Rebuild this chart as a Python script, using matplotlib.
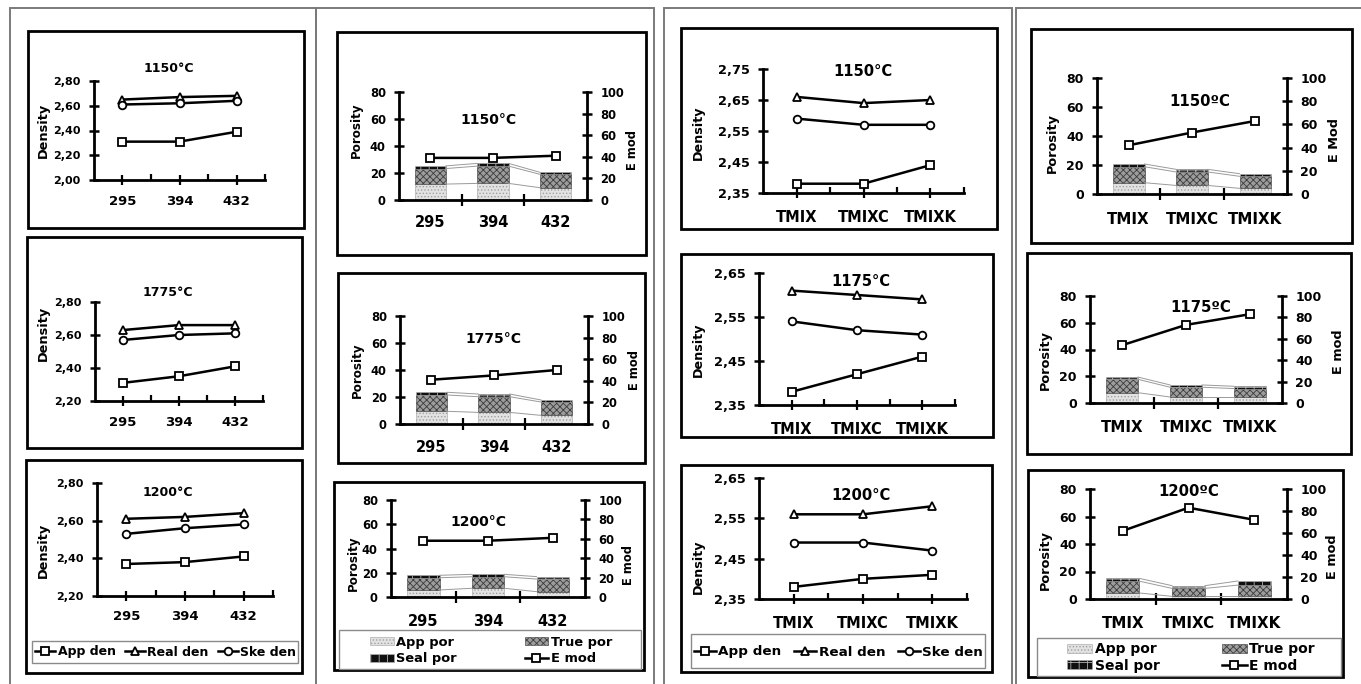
import numpy as np
import matplotlib
matplotlib.use("Agg")
import matplotlib.pyplot as plt
from matplotlib.patches import Rectangle
from matplotlib.ticker import FuncFormatter
from matplotlib.transforms import blended_transform_factory

plt.rcParams["font.family"] = ["DejaVu Sans"]
plt.rcParams["font.weight"] = "bold"
plt.rcParams["hatch.linewidth"] = 0.6

W, H = 1361, 684

# categories
num_cats = ["295", "394", "432"]
mix_cats = ["TMIX", "TMIXC", "TMIXK"]

# densities, samples 295 / 394 / 432
app_den_num_1150 = [2.31, 2.31, 2.39]
real_den_num_1150 = [2.65, 2.67, 2.68]
ske_den_num_1150 = [2.61, 2.62, 2.64]
app_den_num_1775 = [2.31, 2.35, 2.41]
real_den_num_1775 = [2.63, 2.66, 2.66]
ske_den_num_1775 = [2.57, 2.60, 2.61]
app_den_num_1200 = [2.37, 2.38, 2.41]
real_den_num_1200 = [2.61, 2.62, 2.64]
ske_den_num_1200 = [2.53, 2.56, 2.58]

# porosity + E modulus, samples 295 / 394 / 432
app_por_num_1150 = [11.8, 12.3, 9.1]
true_por_num_1150 = [11.5, 12.8, 9.9]
seal_por_num_1150 = [2.0, 2.0, 1.5]
emod_num_1150 = [39, 39, 41]
app_por_num_1775 = [9.4, 8.6, 6.4]
true_por_num_1775 = [12.1, 11.6, 9.9]
seal_por_num_1775 = [2.0, 2.0, 1.5]
emod_num_1775 = [41, 45, 50]
app_por_num_1200 = [5.8, 7.2, 4.4]
true_por_num_1200 = [10.1, 9.5, 10.4]
seal_por_num_1200 = [2.0, 2.0, 2.0]
emod_num_1200 = [58, 58, 61]

# densities, TMIX mixes
app_den_mix_1150 = [2.38, 2.38, 2.44]
real_den_mix_1150 = [2.66, 2.64, 2.65]
ske_den_mix_1150 = [2.59, 2.57, 2.57]
app_den_mix_1175 = [2.38, 2.42, 2.46]
real_den_mix_1175 = [2.61, 2.60, 2.59]
ske_den_mix_1175 = [2.54, 2.52, 2.51]
app_den_mix_1200 = [2.38, 2.40, 2.41]
real_den_mix_1200 = [2.56, 2.56, 2.58]
ske_den_mix_1200 = [2.49, 2.49, 2.47]

# porosity + E modulus, TMIX mixes
app_por_mix_1150 = [7.8, 5.9, 3.9]
true_por_mix_1150 = [11.0, 9.3, 8.3]
seal_por_mix_1150 = [1.9, 1.8, 1.8]
emod_mix_1150 = [42, 53, 63]
app_por_mix_1175 = [7.7, 4.5, 4.5]
true_por_mix_1175 = [10.0, 7.3, 6.3]
seal_por_mix_1175 = [1.7, 1.7, 1.7]
emod_mix_1175 = [54, 73, 83]
app_por_mix_1200 = [4.4, 1.9, 1.9]
true_por_mix_1200 = [8.6, 5.8, 8.2]
seal_por_mix_1200 = [2.0, 2.0, 3.0]
emod_mix_1200 = [62, 83, 72]

APP_STYLE = dict(facecolor="#e2e2e2", edgecolor="#a0a0a0", hatch=".....", lw=0.4)
TRUE_STYLE = dict(facecolor="#9c9c9c", edgecolor="#3c3c3c", hatch="xxxxx", lw=0.4)
SEAL_STYLE = dict(facecolor="#101010", edgecolor="#b0b0b0", hatch="++", lw=0.4)
MARK = dict(color="black", lw=1.8, markersize=5.5, markerfacecolor="white",
            markeredgecolor="black", markeredgewidth=1.3, clip_on=False)

fig = plt.figure(figsize=(W / 100, H / 100), dpi=100)


def rect_fig(x0, x1, y0, y1):
    return [x0 / W, 1 - y1 / H, (x1 - x0) / W, (y1 - y0) / H]


def frame(x0, x1, y0, y1, color="black", lw=2.0):
    fig.add_artist(Rectangle((x0 / W, 1 - y1 / H), (x1 - x0) / W, (y1 - y0) / H,
                             transform=fig.transFigure, fill=False,
                             edgecolor=color, lw=lw))


def ftext(x, y, s, size, rot=0):
    fig.text(x / W, 1 - y / H, s, ha="center", va="center", fontsize=size,
             rotation=rot, fontweight="bold")


def comma(v, pos):
    return f"{v:.2f}".replace(".", ",")


def cat_labels(ax, xs, cats, y, size):
    trans = blended_transform_factory(ax.transData, fig.transFigure)
    for x, c in zip(xs, cats):
        ax.text(x, 1 - y / H, c, transform=trans, ha="center", va="center",
                fontsize=size, fontweight="bold")


def density_chart(pos, ylim, step, cats, app, real, ske, label_y, tsize, csize):
    ax = fig.add_axes(rect_fig(*pos))
    ax.patch.set_alpha(0)
    xs = np.arange(len(cats)) + 0.5
    h1, = ax.plot(xs, app, marker="s", label="App den", **MARK)
    h2, = ax.plot(xs, real, marker="^", label="Real den", **MARK)
    h3, = ax.plot(xs, ske, marker="o", label="Ske den", **MARK)
    ax.set_xlim(0, 3)
    ax.set_ylim(*ylim)
    ax.set_yticks(np.round(np.arange(ylim[0], ylim[1] + step / 2, step), 2))
    ax.yaxis.set_major_formatter(FuncFormatter(comma))
    ax.set_xticks(xs)
    ax.set_xticks([1, 2, 3], minor=True)
    ax.tick_params(axis="x", which="major", direction="inout", length=7,
                   width=1.6, labelbottom=False)
    ax.tick_params(axis="x", which="minor", direction="in", length=4, width=1.6)
    ax.tick_params(axis="y", direction="inout", length=7, width=1.8,
                   labelsize=tsize, pad=6)
    for s in ["top", "right"]:
        ax.spines[s].set_visible(False)
    for s in ["left", "bottom"]:
        ax.spines[s].set_linewidth(2)
    cat_labels(ax, xs, cats, label_y, csize)
    return [h1, h2, h3]


def porosity_chart(pos, cats, app, true, seal, emod, label_y, tsize, csize):
    ax = fig.add_axes(rect_fig(*pos))
    ax.patch.set_alpha(0)
    xs = np.arange(len(cats)) + 0.5
    app, true, seal = np.array(app), np.array(true), np.array(seal)
    w = 0.5
    b1 = ax.bar(xs, app, w, **APP_STYLE)
    b2 = ax.bar(xs, true, w, bottom=app, **TRUE_STYLE)
    b3 = ax.bar(xs, seal, w, bottom=app + true, **SEAL_STYLE)
    # series lines between the stacked bars
    for lev in (app, app + true, app + true + seal):
        for i in range(len(xs) - 1):
            ax.plot([xs[i] + w / 2, xs[i + 1] - w / 2], [lev[i], lev[i + 1]],
                    color="#9a9a9a", lw=0.7)
    ax.set_xlim(0, 3)
    ax.set_ylim(0, 80)
    ax.set_yticks(range(0, 81, 20))
    ax.set_xticks([1, 2])
    ax.tick_params(axis="x", direction="inout", length=8, width=1.6,
                   labelbottom=False)
    ax.tick_params(axis="y", direction="inout", length=7, width=1.8,
                   labelsize=tsize, pad=6)
    ax2 = ax.twinx()
    h4, = ax2.plot(xs, emod, marker="s", label="E mod", **dict(MARK, markersize=6))
    ax2.set_ylim(0, 100)
    ax2.set_yticks(range(0, 101, 20))
    ax2.tick_params(axis="y", direction="inout", length=7, width=1.8,
                    labelsize=tsize, pad=6)
    for a in (ax, ax2):
        a.spines["top"].set_visible(False)
    ax.spines["right"].set_visible(False)
    ax2.spines["left"].set_visible(False)
    ax2.spines["bottom"].set_visible(False)
    ax.spines["left"].set_linewidth(2)
    ax.spines["bottom"].set_linewidth(2)
    ax2.spines["right"].set_linewidth(2)
    cat_labels(ax, xs, cats, label_y, csize)
    # legend fills column-wise: App / Seal in the first column, True / E mod in the second
    return [b1, b3, b2, h4]


POR_LABELS = ["App por", "Seal por", "True por", "E mod"]

# outer column frames
for x0, x1 in [(10, 316), (316, 654), (664, 1012), (1016, 1370)]:
    frame(x0, x1, 8, 700, color="#7a7a7a", lw=1.4)

# column 1: density, 295/394/432
frame(28, 304, 31, 228)
frame(27, 302, 237, 448)
frame(26, 302, 460, 673)
density_chart((94, 265, 81, 180), (2.0, 2.8), 0.2, num_cats, app_den_num_1150,
              real_den_num_1150, ske_den_num_1150, 202, 8, 9.5)
density_chart((95, 263, 302, 401), (2.2, 2.8), 0.2, num_cats, app_den_num_1775,
              real_den_num_1775, ske_den_num_1775, 422, 8, 9.5)
hd = density_chart((97, 273, 483, 596), (2.2, 2.8), 0.2, num_cats, app_den_num_1200,
                   real_den_num_1200, ske_den_num_1200, 617, 8, 9.5)
ftext(169, 68, "1150°C", 9)
ftext(168, 293, "1775°C", 9)
ftext(168, 492, "1200°C", 9)
for y in (130, 333, 550):
    ftext(43.5, y, "Density", 9.3, 90)
frame(32, 298, 641, 663, color="#8a8a8a", lw=1.0)
fig.legend(hd, ["App den", "Real den", "Ske den"], loc="center",
           bbox_to_anchor=(35 / W, 1 - 652 / H, 261 / W, 0), mode="expand",
           ncol=3, frameon=False, handlelength=1.6, handletextpad=0.2,
           borderpad=0, borderaxespad=0, columnspacing=0.5,
           prop={"size": 9, "weight": "bold"})

# column 2: porosity + E mod, 295/394/432
frame(337, 646, 32, 255)
frame(338, 645, 273, 463)
frame(334, 644, 482, 670)
porosity_chart((399, 587, 92, 200), num_cats, app_por_num_1150, true_por_num_1150,
               seal_por_num_1150, emod_num_1150, 223, 8.3, 10.5)
porosity_chart((400, 588, 316, 424), num_cats, app_por_num_1775, true_por_num_1775,
               seal_por_num_1775, emod_num_1775, 448, 8.3, 10.5)
hp = porosity_chart((391, 585, 500, 597), num_cats, app_por_num_1200,
                    true_por_num_1200, seal_por_num_1200, emod_num_1200, 621, 8.3, 10.5)
ftext(489, 120, "1150°C", 10)
ftext(493, 339, "1775°C", 10)
ftext(478, 522, "1200°C", 10)
for x, y in [(356, 130), (357, 370), (353, 563)]:
    ftext(x, y, "Porosity", 8.6, 90)
for x, y in [(632, 150), (635, 370), (628, 565)]:
    ftext(x, y, "E mod", 8.3, 90)
frame(339, 641, 630, 669, color="#8a8a8a", lw=1.0)
fig.legend(hp, POR_LABELS, loc="center",
           bbox_to_anchor=(370 / W, 1 - 650.5 / H, 242 / W, 0), mode="expand",
           ncol=2, frameon=False, handlelength=1.8, handleheight=0.6,
           handletextpad=0.2, borderpad=0, borderaxespad=0, labelspacing=0.3,
           prop={"size": 9.4, "weight": "bold"})

# column 3: density, TMIX mixes
frame(681, 997, 28, 229)
frame(681, 993, 254, 437)
frame(681, 992, 465, 672)
density_chart((763, 964, 69, 193), (2.35, 2.75), 0.1, mix_cats, app_den_mix_1150,
              real_den_mix_1150, ske_den_mix_1150, 218, 9.3, 10.5)
density_chart((759, 955, 273, 405), (2.35, 2.65), 0.1, mix_cats, app_den_mix_1175,
              real_den_mix_1175, ske_den_mix_1175, 429, 9.3, 10.5)
hd2 = density_chart((759, 967, 478, 599), (2.35, 2.65), 0.1, mix_cats,
                    app_den_mix_1200, real_den_mix_1200, ske_den_mix_1200, 623,
                    9.3, 10.5)
ftext(863, 72, "1150°C", 10.6)
ftext(861, 282, "1175°C", 10.6)
ftext(861, 496, "1200°C", 10.6)
for y in (133, 350, 567):
    ftext(698.5, y, "Density", 9.2, 90)
frame(691, 985, 634, 668, color="#8a8a8a", lw=1.0)
fig.legend(hd2, ["App den", "Real den", "Ske den"], loc="center",
           bbox_to_anchor=(694 / W, 1 - 652 / H, 289 / W, 0), mode="expand",
           ncol=3, frameon=False, handlelength=1.6, handletextpad=0.2,
           borderpad=0, borderaxespad=0, columnspacing=0.5,
           prop={"size": 9.7, "weight": "bold"})

# column 4: porosity + E mod, TMIX mixes
frame(1031, 1352, 29, 243)
frame(1027, 1351, 253, 454)
frame(1028, 1343, 470, 677)
porosity_chart((1097, 1287, 78, 194), mix_cats, app_por_mix_1150, true_por_mix_1150,
               seal_por_mix_1150, emod_mix_1150, 219, 9.0, 10.8)
porosity_chart((1090, 1282, 296, 403), mix_cats, app_por_mix_1175, true_por_mix_1175,
               seal_por_mix_1175, emod_mix_1175, 427, 9.0, 10.8)
hp2 = porosity_chart((1090, 1287, 489, 599), mix_cats, app_por_mix_1200,
                     true_por_mix_1200, seal_por_mix_1200, emod_mix_1200, 623,
                     9.0, 10.8)
ftext(1200, 102, "1150ºC", 10.7)
ftext(1201, 307, "1175ºC", 10.7)
ftext(1189, 492, "1200ºC", 10.7)
for x, y in [(1052, 143), (1045, 360), (1045, 560)]:
    ftext(x, y, "Porosity", 9.3, 90)
ftext(1335, 140, "E Mod", 9.3, 90)
ftext(1338, 352, "E mod", 9.3, 90)
ftext(1332, 557, "E mod", 9.3, 90)
frame(1037, 1341, 638, 676, color="#8a8a8a", lw=1.0)
fig.legend(hp2, POR_LABELS, loc="center",
           bbox_to_anchor=(1067 / W, 1 - 657.5 / H, 248 / W, 0), mode="expand",
           ncol=2, frameon=False, handlelength=1.8, handleheight=0.6,
           handletextpad=0.2, borderpad=0, borderaxespad=0, labelspacing=0.15,
           prop={"size": 10, "weight": "bold"})

fig.savefig("out.png", dpi=100)
